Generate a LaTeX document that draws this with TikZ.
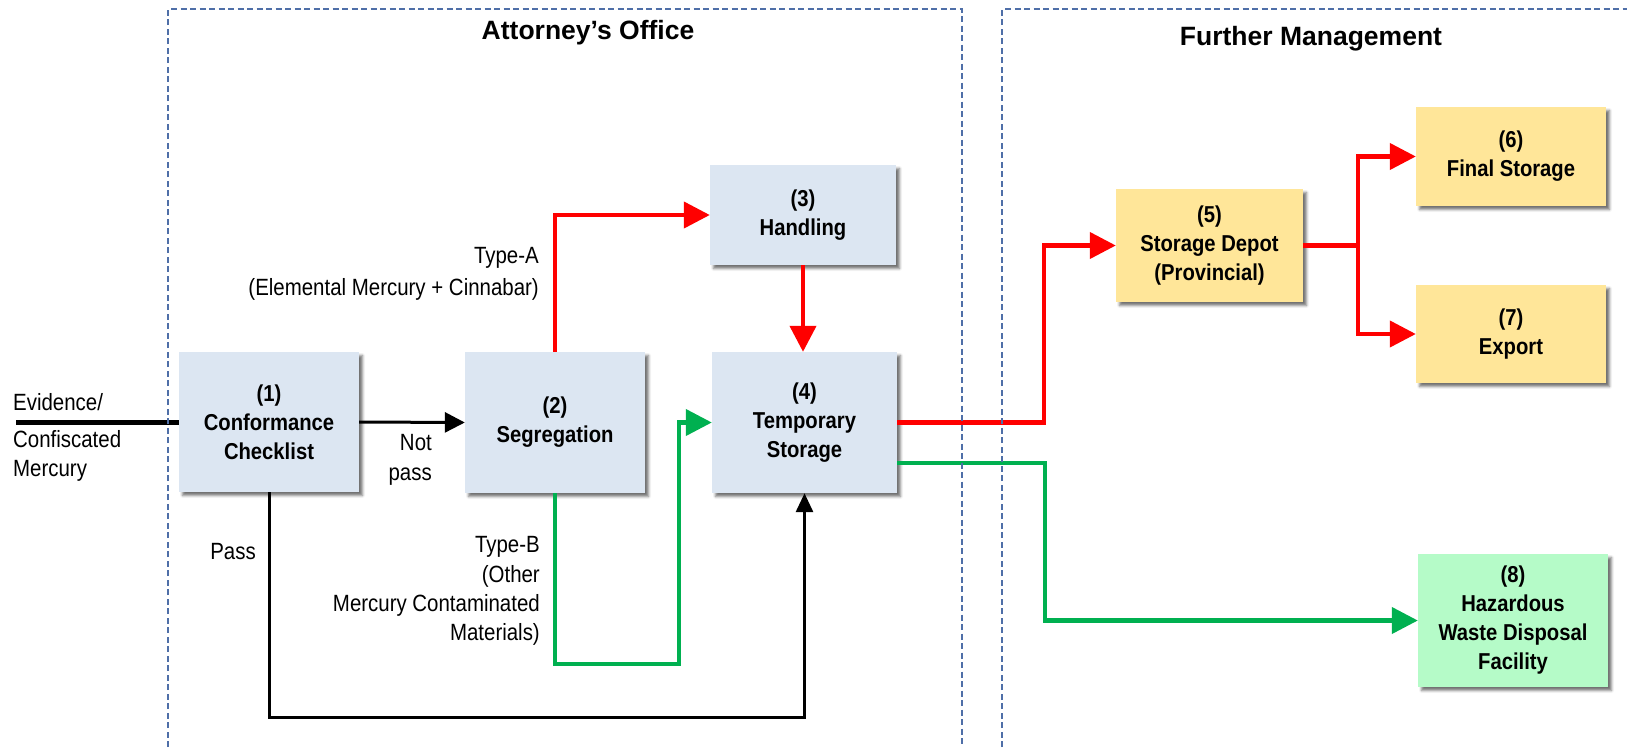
\documentclass[tikz,border=0pt]{standalone}
\usepackage{fontspec}
\setmainfont{Liberation Sans}
\newfontfamily\boxfont{Liberation Sans}[FakeStretch=0.88]
\newfontfamily\labelfont{Liberation Sans}[FakeStretch=0.87]
\usetikzlibrary{arrows.meta,shadows.blur}

\definecolor{boxblue}{HTML}{DCE6F2}
\definecolor{boxyellow}{HTML}{FFE699}
\definecolor{boxgreen}{HTML}{B5FBC8}
\definecolor{flowred}{HTML}{FF0000}
\definecolor{flowgreen}{HTML}{00B050}
\definecolor{framecol}{HTML}{4F6FA8}

\begin{document}
\begin{tikzpicture}[x=1pt,y=-1pt,
  stage/.style={draw=none, align=center, inner sep=0pt,
    font=\boxfont\bfseries\fontsize{23}{29}\selectfont,
    blur shadow={shadow xshift=3.5pt, shadow yshift=-3.5pt,
      shadow blur radius=2.5pt, shadow opacity=55}},
  office/.style={stage, fill=boxblue},
  depot/.style={stage, fill=boxyellow},
  disposal/.style={stage, fill=boxgreen},
  lab/.style={inner sep=0pt, align=right,
    font=\labelfont\fontsize{23.5}{30}\selectfont},
  title/.style={inner sep=0pt, font=\bfseries\fontsize{26.5}{30}\selectfont},
  frame/.style={draw=framecol, line width=1.2pt, dash pattern=on 6pt off 3.5pt},
  bigtip/.style={-{Triangle[length=26pt,width=26pt]}},
  redflow/.style={draw=flowred, line width=4.2pt},
  greenflow/.style={draw=flowgreen, line width=4.2pt},
  blackflow/.style={draw=black, line width=3pt},
]
\useasboundingbox (0,0) rectangle (1627,747);

% process steps
\node[office, minimum width=180pt, minimum height=140pt] (n1) at (269,422)
  {(1)\\Conformance\\Checklist};
\node[office, minimum width=180pt, minimum height=141pt] (n2) at (555,422.5)
  {(2)\\Segregation};
\node[office, minimum width=186pt, minimum height=100pt] (n3) at (803,215)
  {(3)\\Handling};
\node[office, minimum width=185pt, minimum height=141pt] (n4) at (804.5,422.5)
  {(4)\\Temporary\\Storage};
\node[depot, minimum width=187pt, minimum height=113pt] (n5) at (1209.5,245.5)
  {(5)\\Storage Depot\\(Provincial)};
\node[depot, minimum width=190pt, minimum height=99pt] (n6) at (1511,156.5)
  {(6)\\Final Storage};
\node[depot, minimum width=190pt, minimum height=98pt] (n7) at (1511,334)
  {(7)\\Export};
\node[disposal, minimum width=190pt, minimum height=133pt] (n8) at (1513,620.5)
  {(8)\\Hazardous\\Waste Disposal\\Facility};

% routing points
\coordinate (src) at (16,422);
\coordinate (gcorner) at (679,664);
\coordinate (rk) at (1044,300);
\coordinate (gk) at (1045,463);
\coordinate (br) at (1358,245.5);

% incoming material
\draw[line width=5pt] (src) -- (n1.west);
\node[lab, anchor=west, align=left] (ev) at (13,402) {Evidence/};
\node[lab, anchor=west, align=left, font=\labelfont\fontsize{23.5}{29}\selectfont]
  (cm) at (13,456) {Confiscated\\Mercury};

% checklist outcomes
\draw[blackflow, -{Triangle[length=20pt,width=20pt]}] (n1.east) -- (n2.west);
\node[lab, anchor=east] (np) at (432,460) {Not\\pass};
\draw[blackflow, -{Triangle[length=19pt,width=17pt]}]
  (n1.south) -- ++(0,225) -| (n4.south);
\node[lab, anchor=center] (ps) at (233,552) {Pass};

% segregation by type
\draw[redflow, bigtip] (n2.north) |- (n3.west);
\node[lab, anchor=east, font=\labelfont\fontsize{23.5}{32}\selectfont] (ta) at (539,274)
  {Type-A\\(Elemental Mercury + Cinnabar)};
\draw[redflow, bigtip] (n3.south) -- (n3.south |- n4.north);
\draw[greenflow, bigtip] (n2.south) |- (gcorner) |- (n4.west);
\node[lab, anchor=east, font=\labelfont\fontsize{23.5}{29.3}\selectfont] (tb) at (540,591)
  {Type-B\\(Other\\Mercury Contaminated\\Materials)};

% further management
\draw[redflow, bigtip] (n4.east) -- (n4.east -| rk) |- (n5.west);
\draw[redflow, bigtip] (n5.east) -- (n5.east -| br) |- (n6.west);
\draw[redflow, bigtip] (n5.east -| br) |- (n7.west);
\draw[greenflow, bigtip] ([yshift=-40.5pt]n4.east) -- (gk) |- (n8.west);

% area frames and headings
\draw[frame] (168,747) -- (168,9) -- (962,9) -- (962,747);
\draw[frame] (1002,747) -- (1002,9) -- (1627,9);
\node[title] (t1) at (588,33) {Attorney’s Office};
\node[title] (t2) at (1311,39) {Further Management};
\end{tikzpicture}
\end{document}
